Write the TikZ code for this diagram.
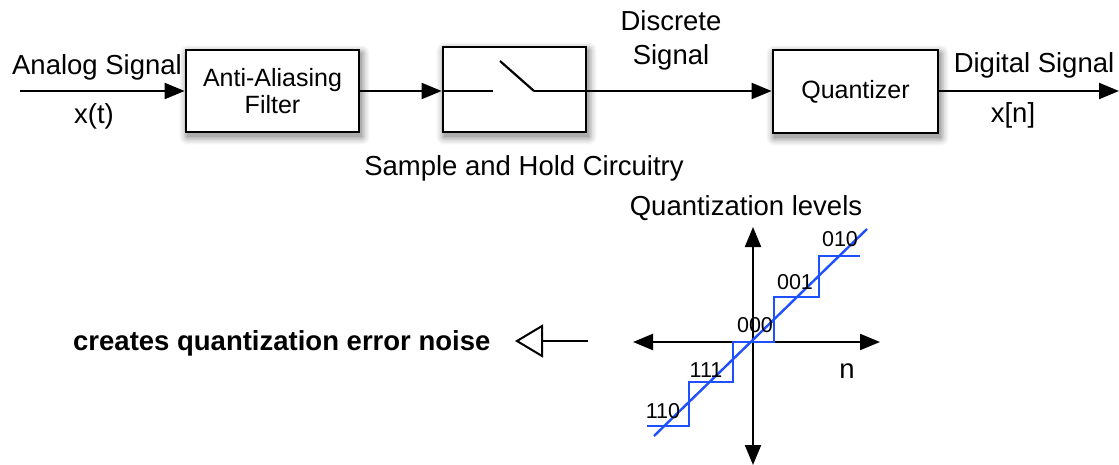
\documentclass[tikz,border=0pt]{standalone}
\usepackage{fontspec}
\setmainfont{Liberation Sans}
\usetikzlibrary{arrows.meta,backgrounds}
\definecolor{stair}{RGB}{30,80,255}
% soft shadow under a box: stacked grey rectangles, widest and palest first
\newcommand\boxshade[1]{%
  \begin{scope}[on background layer]
    \foreach \e/\c in {7/4,5.5/8,4/13,2.5/19,1/26,-0.5/32}{
      \fill[black!\c,rounded corners=\e pt+1pt]
        ([shift={(2-\e,4-\e)}]#1.north west) rectangle ([shift={(2+\e,4+\e)}]#1.south east);
    }
  \end{scope}}
\begin{document}
\begin{tikzpicture}[x=1pt,y=-1pt,
  blockbox/.style={draw,line width=2.8pt,fill=white,align=center,inner sep=0pt,
    font=\fontsize{25}{28}\selectfont},
  lbl/.style={font=\fontsize{27.5}{33}\selectfont,anchor=base,inner sep=0pt},
  lvl/.style={font=\fontsize{21.5}{24}\selectfont,anchor=base,inner sep=0pt},
  sig/.style={line width=2.2pt,-{Triangle[length=20pt,width=16pt]}},
  wire/.style={line width=2.2pt},
  axis/.style={line width=2.2pt,{Triangle[length=20pt,width=16pt]}-{Triangle[length=20pt,width=16pt]}},
  stairline/.style={stair,line width=2.4pt}]
\useasboundingbox (0,0) rectangle (1119,465);

% processing chain
\node[blockbox,minimum width=173pt,minimum height=82pt] (aaf) at (272.5,91) {Anti-Aliasing\\[-1pt]Filter};
\node[blockbox,minimum width=143pt,minimum height=85pt] (sh) at (514.5,89.5) {};
\node[blockbox,minimum width=165pt,minimum height=83pt] (quant) at (855.5,91.5) {Quantizer};
\boxshade{aaf}
\boxshade{sh}
\boxshade{quant}

\coordinate (in) at (20,91);
\coordinate (out) at (1119,91);
\coordinate (swa) at (493,91);
\coordinate (swt) at (500,61);
\coordinate (swb) at (534,91);

\draw[sig] (in) -- (aaf.west);
\draw[sig] (aaf.east) -- (aaf.east -| sh.west);
\draw[wire] (aaf.east -| sh.west) -- (swa);
\draw[wire] (swt) -- (swb);
\draw[sig] (swb) -- (quant.west |- swb);
\draw[sig] (quant.east |- out) -- (out);

% signal labels
\node[lbl] (analog) at (97,75) {Analog Signal};
\node[lbl] (xt) at (94,124) {x(t)};
\node[lbl] (disc1) at (671,31) {Discrete};
\node[lbl] (disc2) at (671,65) {Signal};
\node[lbl] (digital) at (1034,73) {Digital Signal};
\node[lbl] (xn) at (1013,123) {x[n]};
\node[lbl] (shlabel) at (524,176) {Sample and Hold Circuitry};

% quantization characteristic
\node[lbl] (qlev) at (746,215) {Quantization levels};
\coordinate (hl) at (633,342);
\coordinate (hr) at (880,342);
\coordinate (vt) at (753,227);
\coordinate (vb) at (753,465);
\draw[axis] (hl) -- (hr);
\draw[axis] (vt) -- (vb);

\draw[stairline] (647,426) -- (689,426) -- (689,382) -- (733,382) -- (733,342)
  -- (774,342) -- (774,297) -- (819,297) -- (819,256) -- (860,256);
\draw[stairline] (654,436) -- (867,229);

\node[lvl] (l110) at (663,418) {110};
\node[lvl] (l111) at (706,377) {111};
\node[lvl] (l000) at (755,332) {000};
\node[lvl] (l001) at (795,289) {001};
\node[lvl] (l010) at (840,247) {010};
\node[lbl] (nlab) at (847,378) {n};

% noise note
\node[font=\bfseries\fontsize{27.5}{33}\selectfont,anchor=base west,inner sep=0pt] (noise) at (73,350) {creates quantization error noise};
\coordinate (nstart) at (588,341);
\coordinate (ntip) at (515,341);
\draw[line width=2pt,-{Triangle[open,length=28pt,width=33pt,line width=2pt]}] (nstart) -- (ntip);
\end{tikzpicture}
\end{document}
